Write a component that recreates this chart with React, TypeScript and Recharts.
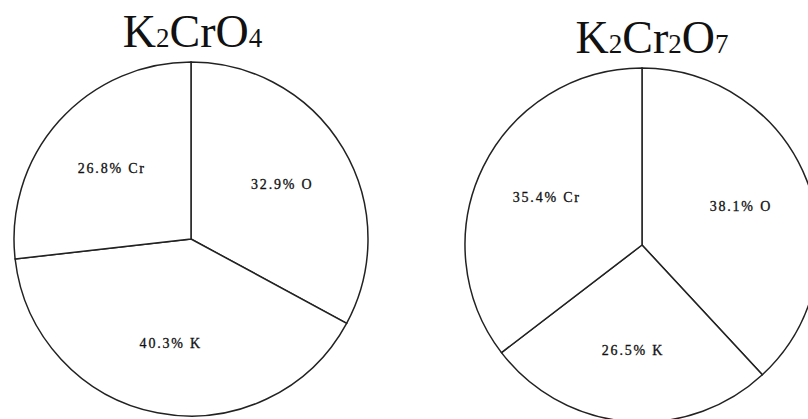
import React from 'react';
import { PieChart, Pie, Cell } from 'recharts';

const elementsA = ['O', 'K', 'Cr'];
const valuesA = [32.9, 40.3, 26.8];
const elementsB = ['O', 'K', 'Cr'];
const valuesB = [38.1, 26.5, 35.4];

const dataA = elementsA.map((name, i) => ({ name, value: valuesA[i] }));
const dataB = elementsB.map((name, i) => ({ name, value: valuesB[i] }));

const RAD = Math.PI / 180;

const renderLabel = (props: any) => {
  const { cx, cy, midAngle, outerRadius, name, value } = props;
  const r = outerRadius * 0.6;
  const x = cx + r * Math.cos(-midAngle * RAD);
  const y = cy + r * Math.sin(-midAngle * RAD);
  return (
    <text
      x={x}
      y={y}
      textAnchor="middle"
      dominantBaseline="central"
      fontFamily="'Liberation Serif', serif"
      fontSize={14}
      letterSpacing={1.8}
      stroke="#111"
      strokeWidth={0.3}
      fill="#111"
    >
      {`${value}% ${name}`}
    </text>
  );
};

const titleStyle: React.CSSProperties = {
  position: 'absolute',
  fontFamily: "'Liberation Serif', 'Times New Roman', serif",
  fontSize: 46,
  lineHeight: '46px',
  color: '#111',
  whiteSpace: 'nowrap',
  transform: 'translateX(-50%)',
};
const sub: React.CSSProperties = { fontSize: 27 };

export default function App() {
  return (
    <div style={{ position: 'relative', width: 808, height: 419, background: '#fff' }}>
      <style>{`body{margin:0;}`}</style>
      <PieChart width={808} height={419} margin={{ top: 0, right: 0, bottom: 0, left: 0 }}>
        <Pie
          data={dataA}
          dataKey="value"
          nameKey="name"
          cx={191}
          cy={239}
          outerRadius={177}
          startAngle={90}
          endAngle={-270}
          fill="#fff"
          stroke="#222"
          strokeWidth={1.5}
          label={renderLabel}
          labelLine={false}
          isAnimationActive={false}
        >
          {dataA.map((d) => (
            <Cell key={d.name} fill="#fff" stroke="#222" />
          ))}
        </Pie>
        <Pie
          data={dataB}
          dataKey="value"
          nameKey="name"
          cx={642}
          cy={245}
          outerRadius={177}
          startAngle={90}
          endAngle={-270}
          fill="#fff"
          stroke="#222"
          strokeWidth={1.5}
          label={renderLabel}
          labelLine={false}
          isAnimationActive={false}
        >
          {dataB.map((d) => (
            <Cell key={d.name} fill="#fff" stroke="#222" />
          ))}
        </Pie>
      </PieChart>
      <div style={{ ...titleStyle, left: 192.5, top: 8.5 }}>
        K<span style={sub}>2</span>CrO<span style={sub}>4</span>
      </div>
      <div style={{ ...titleStyle, left: 652, top: 14.5 }}>
        K<span style={sub}>2</span>Cr<span style={sub}>2</span>O<span style={sub}>7</span>
      </div>
    </div>
  );
}
